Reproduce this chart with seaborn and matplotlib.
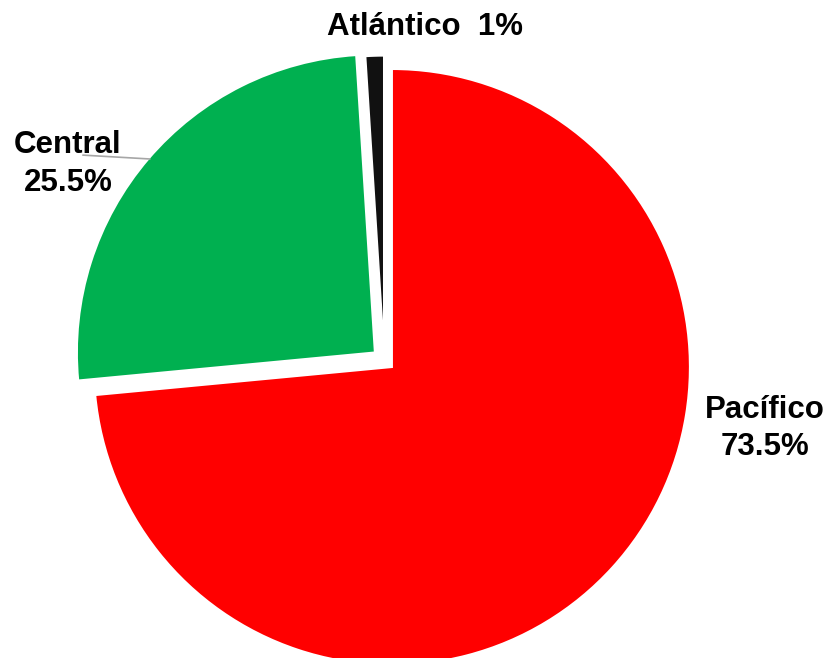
import matplotlib
matplotlib.use("Agg")
import matplotlib.pyplot as plt
import seaborn as sns

sns.set_theme(style="white")
plt.rcParams['font.family'] = ['Liberation Sans', 'DejaVu Sans']

categories = ["Pacífico", "Central", "Atlántico"]
values = [73.5, 25.5, 1.0]
colors = ["#FF0000", "#00B050", "#111111"]
explode = [0.0, 0.075, 0.045]

fig = plt.figure(figsize=(8.3, 6.58), dpi=100)
ax = fig.add_axes([0, 0, 1, 1])
wedges, _ = ax.pie(values, colors=colors, explode=explode, startangle=90, counterclock=False,
                   radius=1.0, wedgeprops=dict(edgecolor="white", linewidth=1.5))
# nudge the small slice slightly left, as in the reference
cx, cy = wedges[2].center
wedges[2].set_center((cx - 0.025, cy))
ax.set_aspect('auto')
ax.set_xlim(-1.315, 1.470)
ax.set_ylim(-0.9765, 1.2315)
ax.axis('off')

fs = 22.5
tc = "black"
def pct(v):
    return f"{v:g}%"

ax.text(1.252, -0.144, categories[0], ha='center', va='center', fontsize=fs, fontweight='bold', color=tc)
ax.text(1.252, -0.268, pct(values[0]), ha='center', va='center', fontsize=fs, fontweight='bold', color=tc)
ax.text(-1.087, 0.745, categories[1], ha='center', va='center', fontsize=fs, fontweight='bold', color=tc)
ax.text(-1.087, 0.617, pct(values[1]), ha='center', va='center', fontsize=fs, fontweight='bold', color=tc)
ax.plot([-1.037, -0.812], [0.711, 0.698], color="#A6A6A6", lw=1.2)
ax.text(0.111, 1.141, f"{categories[2]}  {pct(values[2])}", ha='center', va='center',
        fontsize=fs, fontweight='bold', color=tc)

fig.savefig("out.png", dpi=100, facecolor="white")
